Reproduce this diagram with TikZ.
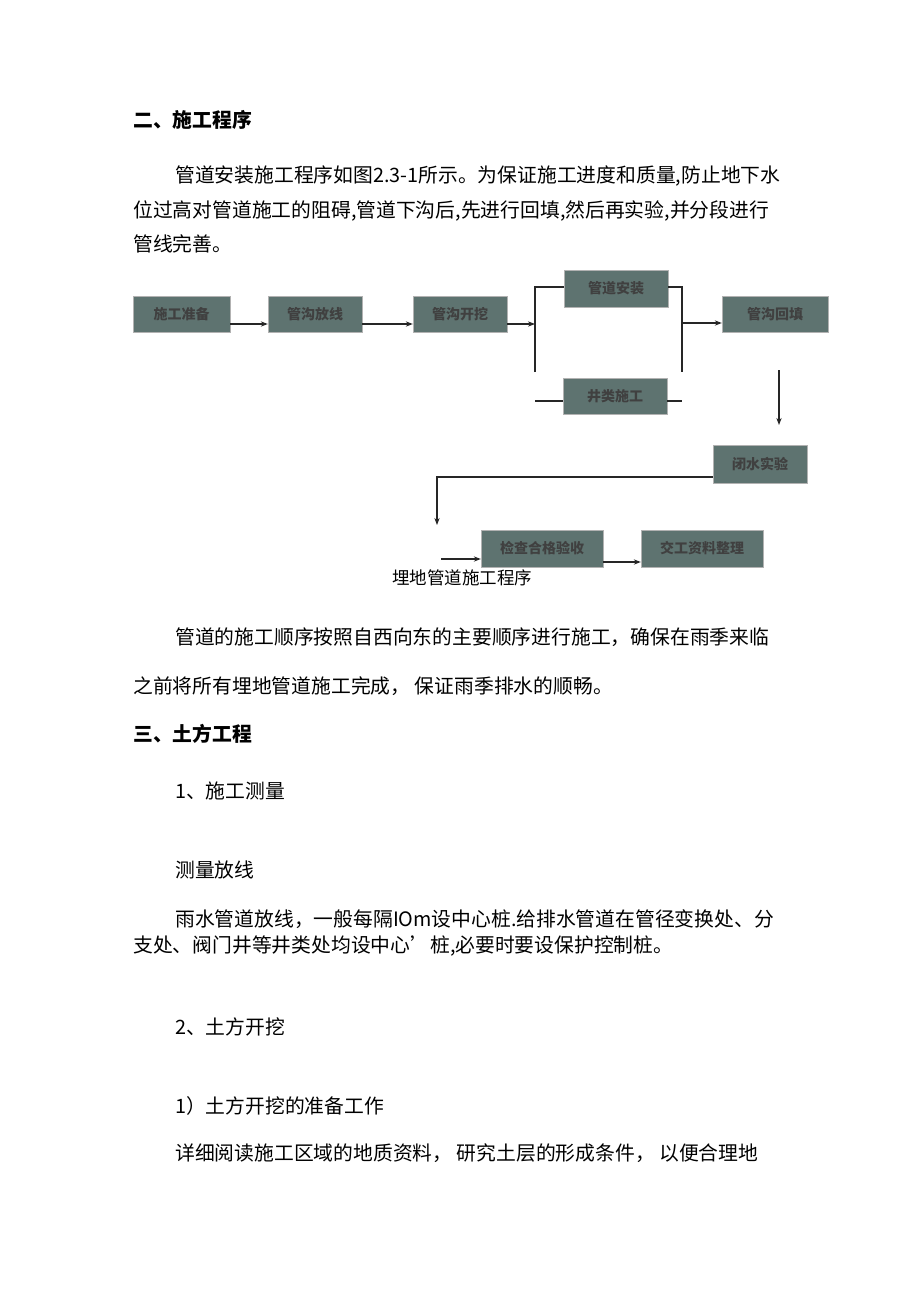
\documentclass[tikz,border=0pt]{standalone}
\usepackage{fontspec}
\usetikzlibrary{arrows.meta}
\setmainfont{Noto Sans CJK SC}
\begin{document}
\begin{tikzpicture}[x=1pt,y=-1pt,
  body/.style={anchor=west,inner sep=0pt,font=\fontsize{19.8}{19.8}\selectfont},
  head/.style={body,font=\fontsize{19.8}{19.8}\selectfont\bfseries},
  box/.style={draw=gray!60,fill=boxc,inner sep=0pt,font=\fontsize{14}{14}\selectfont\bfseries,text=black!75},
  ln/.style={line width=1.5pt,black!85},
  ar/.style={ln,-{Stealth[length=7pt]}}]
\definecolor{boxc}{HTML}{5E7370}
\useasboundingbox (0,0) rectangle (920,1301);
\fill[white] (0,0) rectangle (920,1301);
\node[head] (h1) at (133,120) {二、施工程序};
\node[body] (t1) at (175,176) {管道安装施工程序如图2.3-1所示。为保证施工进度和质量,防止地下水};
\node[body] (t2) at (133,211) {位过高对管道施工的阻碍,管道下沟后,先进行回填,然后再实验,并分段进行};
\node[body] (t3) at (133,244) {管线完善。};
% boxes
\node[box,minimum width=97,minimum height=36] (a) at (181.5,314) {施工准备};
\node[box,minimum width=94,minimum height=36] (b) at (315,314) {管沟放线};
\node[box,minimum width=94,minimum height=36] (c) at (460,314) {管沟开挖};
\node[box,minimum width=104,minimum height=37] (d) at (616,288.5) {管道安装};
\node[box,minimum width=104,minimum height=36] (e) at (615,396) {井类施工};
\node[box,minimum width=106,minimum height=36] (f) at (775,314) {管沟回填};
\node[box,minimum width=94,minimum height=38] (g) at (760,464) {闭水实验};
\node[box,minimum width=122,minimum height=37] (h) at (542,548.5) {检查合格验收};
\node[box,minimum width=122,minimum height=37] (i) at (702,548.5) {交工资料整理};
\node[inner sep=0pt,font=\fontsize{17.5}{17.5}\selectfont] (cap) at (462,578) {埋地管道施工程序};
\coordinate (L1) at (535,287); \coordinate (L2) at (535,372);
\coordinate (R1) at (682,287); \coordinate (R2) at (682,372);
\draw[ar] (a.east |- 0,324) -- (b.west |- 0,324);
\draw[ar] (b.east |- 0,324) -- (c.west |- 0,324);
\draw[ar] (c.east |- 0,324) -- (535,324);
\draw[ln] (L2) -- (L1) -- (d.west |- L1);
\draw[ln] (d.east |- R1) -- (R1) -- (R2);
\draw[ln] (535,401) -- (e.west |- 0,401);
\draw[ln] (e.east |- 0,401) -- (682,401);
\draw[ar] (682,323) -- (f.west |- 0,323);
\draw[ar] (779,370) -- (779,425);
\draw[ar] (g.west |- 0,477) -- (437,477) -- (437,525);
\draw[ar] (441,559) -- (h.west |- 0,559);
\draw[ar] (h.east |- 0,562) -- (i.west |- 0,562);
% rest of text
\node[body] (t4) at (175,637) {管道的施工顺序按照自西向东的主要顺序进行施工，确保在雨季来临};
\node[body] (t5) at (133,686) {之前将所有埋地管道施工完成， 保证雨季排水的顺畅。};
\node[head] (h2) at (133,734) {三、土方工程};
\node[body] (t6) at (175,791) {1、施工测量};
\node[body] (t7) at (175,870) {测量放线};
\node[body] (t8) at (175,919) {雨水管道放线，一般每隔IOm设中心桩.给排水管道在管径变换处、分};
\node[body] (t9) at (133,946) {支处、阀门井等井类处均设中心'桩,必要时要设保护控制桩。};
\node[body] (t10) at (175,1027) {2、土方开挖};
\node[body] (t11) at (175,1106) {1）土方开挖的准备工作};
\node[body] (t12) at (175,1153) {详细阅读施工区域的地质资料， 研究土层的形成条件， 以便合理地};
\end{tikzpicture}
\end{document}
